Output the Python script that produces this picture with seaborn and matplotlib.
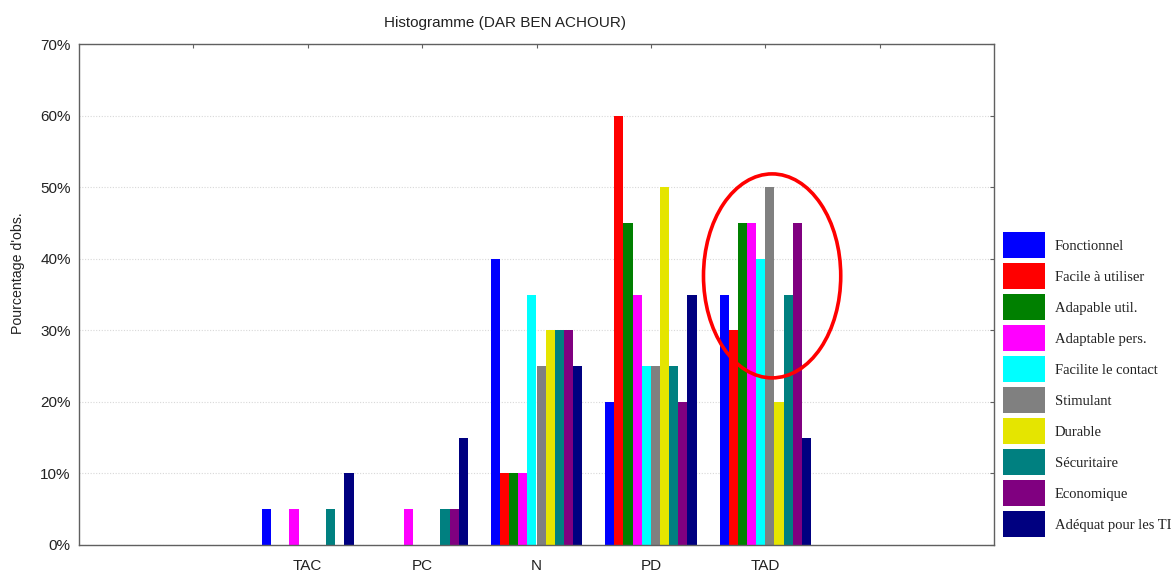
import matplotlib
matplotlib.use("Agg")
import matplotlib.pyplot as plt
from matplotlib.patches import Ellipse, Patch
from matplotlib.ticker import FuncFormatter, MultipleLocator
import pandas as pd
import seaborn as sns

# Response categories on the x axis
categories = ["TAC", "PC", "N", "PD", "TAD"]

# Criteria (one bar per criterion inside each category)
criteria = [
    "Fonctionnel", "Facile à utiliser", "Adapable util.", "Adaptable pers.",
    "Facilite le contact", "Stimulant", "Durable", "Sécuritaire",
    "Economique", "Adéquat pour les TI",
]

# Percentage of observations, per criterion, in category order
fonctionnel = [5, 0, 40, 20, 35]
facile = [0, 0, 10, 60, 30]
adapable_util = [0, 0, 10, 45, 45]
adaptable_pers = [5, 5, 10, 35, 45]
facilite_contact = [0, 0, 35, 25, 40]
stimulant = [0, 0, 25, 25, 50]
durable = [0, 0, 30, 50, 20]
securitaire = [5, 5, 30, 25, 35]
economique = [0, 5, 30, 20, 45]
adequat_ti = [10, 15, 25, 35, 15]

series = [fonctionnel, facile, adapable_util, adaptable_pers, facilite_contact,
          stimulant, durable, securitaire, economique, adequat_ti]

colors = ["#0000FF", "#FF0000", "#008000", "#FF00FF", "#00FFFF",
          "#808080", "#E5E500", "#008080", "#800080", "#000080"]

rows = []
for name, vals in zip(criteria, series):
    for cat, v in zip(categories, vals):
        rows.append({"Catégorie": cat, "Critère": name, "Pourcentage": v})
df = pd.DataFrame(rows)

sns.set_style("white")
plt.rcParams["font.family"] = ["Liberation Sans", "DejaVu Sans"]

fig = plt.figure(figsize=(11.76, 5.72), dpi=100)
ax = fig.add_axes([79 / 1176, 1 - 545 / 572, (994 - 79) / 1176, (545 - 44) / 572])

# Blank slots on each side of the real categories
order = [" "] + categories + ["  "]
palette = dict(zip(criteria, colors))

sns.barplot(data=df, x="Catégorie", y="Pourcentage", hue="Critère",
            order=order, hue_order=criteria, palette=palette,
            width=0.8, linewidth=0, saturation=1, errorbar=None,
            legend=False, ax=ax)

ax.set_xlim(-1, len(order))
ax.set_ylim(0, 70)
ax.yaxis.set_major_locator(MultipleLocator(10))
ax.yaxis.set_major_formatter(FuncFormatter(lambda v, p: f"{v:.0f}%"))
ax.set_xticks(range(len(order)))
ax.set_xticklabels(["", *categories, ""])
ax.set_xlabel("")
ax.set_ylabel("")

ax.grid(axis="y", color="#d8d8d8", linestyle=(0, (1, 1.5)), linewidth=0.8)
ax.set_axisbelow(True)
for s in ax.spines.values():
    s.set_color("#606060")
    s.set_linewidth(1.0)
ax.tick_params(axis="both", direction="in", length=3, color="#606060",
               top=True, right=True, labelsize=11, labelcolor="#222222",
               pad=6)
ax.tick_params(axis="x", pad=10)

# Highlight of the TAD group
ax.add_patch(Ellipse((order.index("TAD") + 0.06, 37.6), 1.2, 28.5,
                     fill=False, edgecolor="#FF0000", linewidth=2.6,
                     clip_on=False, zorder=5))

fig.text(505 / 1176, 1 - 23 / 572, "Histogramme (DAR BEN ACHOUR)",
         ha="center", va="center", fontsize=11, color="#222222")
fig.text(18 / 1176, 1 - 273 / 572, "Pourcentage d'obs.", rotation=90,
         ha="center", va="center", fontsize=10.2, color="#222222")

handles = [Patch(facecolor=c, edgecolor="none") for c in colors]
leg = fig.legend(handles, criteria, loc="upper left",
                 bbox_to_anchor=(1003 / 1176, 1 - 232 / 572),
                 frameon=False, borderpad=0, borderaxespad=0,
                 handlelength=2.9, handleheight=2.4, labelspacing=0.32,
                 handletextpad=0.65,
                 prop={"family": "Liberation Serif", "size": 10.5})
for t in leg.get_texts():
    t.set_color("#222222")

fig.savefig("out.png", dpi=100)
